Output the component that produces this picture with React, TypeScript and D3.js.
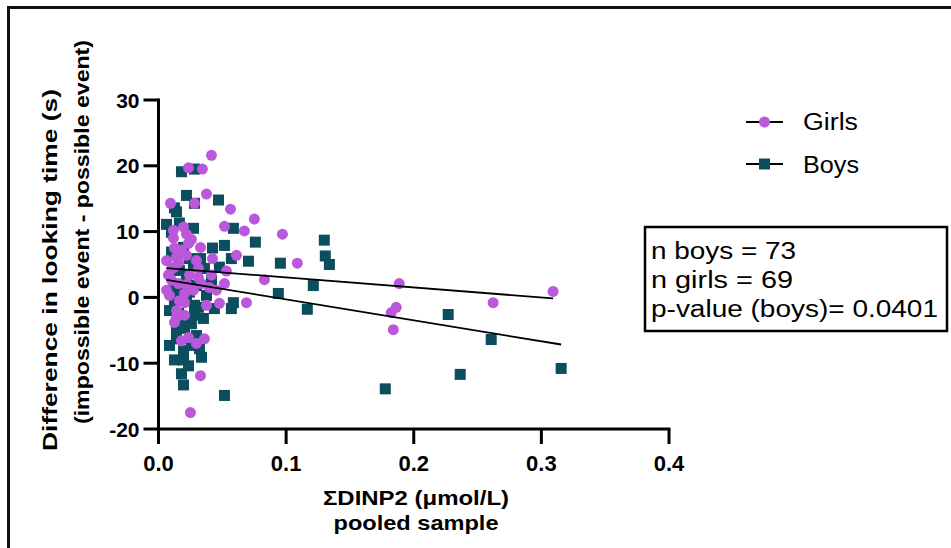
import React from "react";
import * as d3 from "d3";

const girlsX = [0.0415,0.0235,0.0344,0.0376,0.0282,0.0094,0.0564,0.0751,0.0196,0.0517,0.0673,0.0117,0.0219,0.0258,0.0235,0.0125,0.0329,0.0141,0.0157,0.0219,0.0423,0.0611,0.0125,0.0313,0.0532,0.0078,0.0102,0.0313,0.0415,0.083,0.0157,0.0219,0.0337,0.0517,0.0399,0.0086,0.0204,0.0204,0.0376,0.0477,0.0689,0.0141,0.0204,0.0141,0.0125,0.0235,0.018,0.0297,0.036,0.0329,0.025,0.0971,0.1088,0.1886,0.1863,0.1824,0.184,0.3092,0.2622,0.0063,0.0102,0.018,0.0274,0.0164,0.0297,0.0063,0.0243,0.0117,0.0454];
const girlsY = [21.6,19.7,19.5,15.7,14.3,14.3,13.4,11.9,10.7,10.8,10.1,9.0,9.6,8.8,8.2,7.5,7.6,6.1,5.3,6.4,5.9,6.4,4.6,4.4,4.0,3.4,4.3,3.0,3.4,2.7,2.1,2.0,2.1,2.1,1.5,0.3,0.6,-0.8,-1.2,-0.9,-0.8,-2.0,-2.7,-3.0,-3.8,-6.1,-6.6,-7.0,-6.3,-11.9,-17.5,9.6,5.2,2.1,-1.5,-2.3,-4.9,0.9,-0.8,1.1,2.6,7.2,1.1,-0.5,5.6,5.6,3.4,10.2,1.1];

const boysX = [0.018,0.0282,0.0219,0.0282,0.047,0.0125,0.0141,0.0063,0.0164,0.0274,0.0587,0.0759,0.0102,0.0196,0.0423,0.0517,0.0329,0.0571,0.0705,0.0274,0.036,0.0477,0.0219,0.0125,0.0219,0.0157,0.0243,0.0125,0.0282,0.0313,0.0587,0.0571,0.0438,0.0157,0.0282,0.0352,0.0204,0.0258,0.0204,0.0141,0.0086,0.0196,0.0321,0.0125,0.0196,0.0337,0.0235,0.018,0.0196,0.0517,0.1299,0.0955,0.1307,0.1339,0.1213,0.0939,0.1166,0.227,0.2607,0.3155,0.2364,0.1777,0.0102,0.0243,0.0164,0.0297,0.0086,0.0376,0.0219,0.0141,0.0297,0.0258,0.0415];
const boysY = [19.1,19.5,15.5,14.3,14.8,13.6,13.0,11.1,11.3,10.5,10.5,8.4,6.9,7.6,7.5,7.9,5.9,5.9,5.5,4.7,4.4,4.6,3.4,1.5,2.1,0.6,0.8,-0.9,-1.2,-1.5,-0.8,-1.7,-1.7,-2.4,-2.7,-3.2,-3.8,-4.0,-4.7,-6.3,-7.3,-8.1,-7.8,-9.5,-9.5,-9.1,-10.4,-11.6,-13.3,-14.9,8.7,5.2,6.3,5.0,1.8,0.6,-1.8,-2.6,-6.4,-10.8,-11.7,-13.9,9.9,5.9,4.1,1.8,-2.0,0.3,-0.5,-5.0,-5.8,-7.3,2.6];

const girlsFitX = [0.0063, 0.3092];
const girlsFitY = [4.45, -0.15];
const boysFitX = [0.0063, 0.3155];
const boysFitY = [2.68, -7.16];

const xTicks = [0, 0.1, 0.2, 0.3, 0.4];
const xTickLabels = ["0.0", "0.1", "0.2", "0.3", "0.4"];
const yTicks = [-20, -10, 0, 10, 20, 30];
const yTickLabels = ["-20", "-10", "0", "10", "20", "30"];
const seriesNames = ["Girls", "Boys"];
const boxLines = ["n boys = 73", "n girls = 69", "p-value (boys)= 0.0401"];

const PURPLE = "#bb57db";
const TEAL = "#0b4f5f";
const FONT = "'Liberation Sans', Arial, Helvetica, sans-serif";

export default function App() {
  const x = d3.scaleLinear().domain([0, 0.4]).range([158.5, 669]);
  const y = d3.scaleLinear().domain([-20, 30]).range([429, 100]);
  const line = d3.line<[number, number]>().x(d => x(d[0])).y(d => y(d[1]));
  const girls = girlsX.map((v, i) => [v, girlsY[i]] as [number, number]);
  const boys = boysX.map((v, i) => [v, boysY[i]] as [number, number]);
  const sq = 11;
  const r = 5.5;
  const x0 = x(0);
  const yb = y(-20);
  return (
    <div style={{ position: "absolute", left: 0, top: 0 }}>
      <svg width={951} height={548} style={{ display: "block", background: "#fff" }} fontFamily={FONT}>
        <rect x={8.5} y={7.5} width={1000} height={600} fill="none" stroke="#111" strokeWidth={3} />
        {/* axes */}
        <line x1={x0} x2={x0} y1={y(30) - 1.5} y2={yb + 1.5} stroke="#000" strokeWidth={3} />
        <line x1={x0 - 1.5} x2={x(0.4) + 1.5} y1={yb} y2={yb} stroke="#000" strokeWidth={3} />
        {yTicks.map((t, i) => (
          <g key={"yt" + i}>
            <line x1={x0 - 15} x2={x0} y1={y(t)} y2={y(t)} stroke="#000" strokeWidth={3} />
            <text x={x0 - 19} y={y(t) + 7.5} textAnchor="end" fontSize={21} fontWeight="bold">{yTickLabels[i]}</text>
          </g>
        ))}
        {xTicks.map((t, i) => (
          <g key={"xt" + i}>
            <line x1={x(t)} x2={x(t)} y1={yb} y2={yb + 15} stroke="#000" strokeWidth={3} />
            <text x={x(t)} y={471} textAnchor="middle" fontSize={22} fontWeight="bold">{xTickLabels[i]}</text>
          </g>
        ))}
        {/* axis titles */}
        <text x={416} y={505} textAnchor="middle" fontSize={21} fontWeight="bold" textLength={186} lengthAdjust="spacingAndGlyphs">ΣDINP2 (μmol/L)</text>
        <text x={416} y={530} textAnchor="middle" fontSize={21} fontWeight="bold" textLength={165} lengthAdjust="spacingAndGlyphs">pooled sample</text>
        <text transform="translate(57,270) rotate(-90)" textAnchor="middle" fontSize={21} fontWeight="bold" textLength={362} lengthAdjust="spacingAndGlyphs">Difference in looking time (s)</text>
        <text transform="translate(89,232) rotate(-90)" textAnchor="middle" fontSize={21} fontWeight="bold" textLength={384} lengthAdjust="spacingAndGlyphs">(impossible event - possible event)</text>
        {/* points */}
        {boys.map((d, i) => (
          <rect key={"b" + i} x={x(d[0]) - sq / 2} y={y(d[1]) - sq / 2} width={sq} height={sq} fill={TEAL} />
        ))}
        {girls.map((d, i) => (
          <circle key={"g" + i} cx={x(d[0])} cy={y(d[1])} r={r} fill={PURPLE} />
        ))}
        {/* fit lines */}
        <path d={line(girlsFitX.map((v, i) => [v, girlsFitY[i]] as [number, number])) || ""} stroke="#000" strokeWidth={1.8} fill="none" />
        <path d={line(boysFitX.map((v, i) => [v, boysFitY[i]] as [number, number])) || ""} stroke="#000" strokeWidth={1.8} fill="none" />
        {/* legend */}
        <g>
          <line x1={746} x2={783} y1={122} y2={122} stroke="#000" strokeWidth={2} />
          <circle cx={764.5} cy={122} r={5.5} fill={PURPLE} />
          <text x={803} y={130} fontSize={23} textLength={55} lengthAdjust="spacingAndGlyphs">{seriesNames[0]}</text>
          <line x1={746} x2={783} y1={164} y2={164} stroke="#000" strokeWidth={2} />
          <rect x={759} y={158.5} width={11} height={11} fill={TEAL} />
          <text x={803} y={173} fontSize={23} textLength={56} lengthAdjust="spacingAndGlyphs">{seriesNames[1]}</text>
        </g>
        {/* annotation box */}
        <rect x={645} y={227} width={302} height={104} fill="#fff" stroke="#000" strokeWidth={2.5} />
        <text x={651} y={259} fontSize={23} textLength={145} lengthAdjust="spacingAndGlyphs">{boxLines[0]}</text>
        <text x={651} y={288} fontSize={23} textLength={142} lengthAdjust="spacingAndGlyphs">{boxLines[1]}</text>
        <text x={651} y={317} fontSize={23} textLength={287} lengthAdjust="spacingAndGlyphs">{boxLines[2]}</text>
      </svg>
    </div>
  );
}
